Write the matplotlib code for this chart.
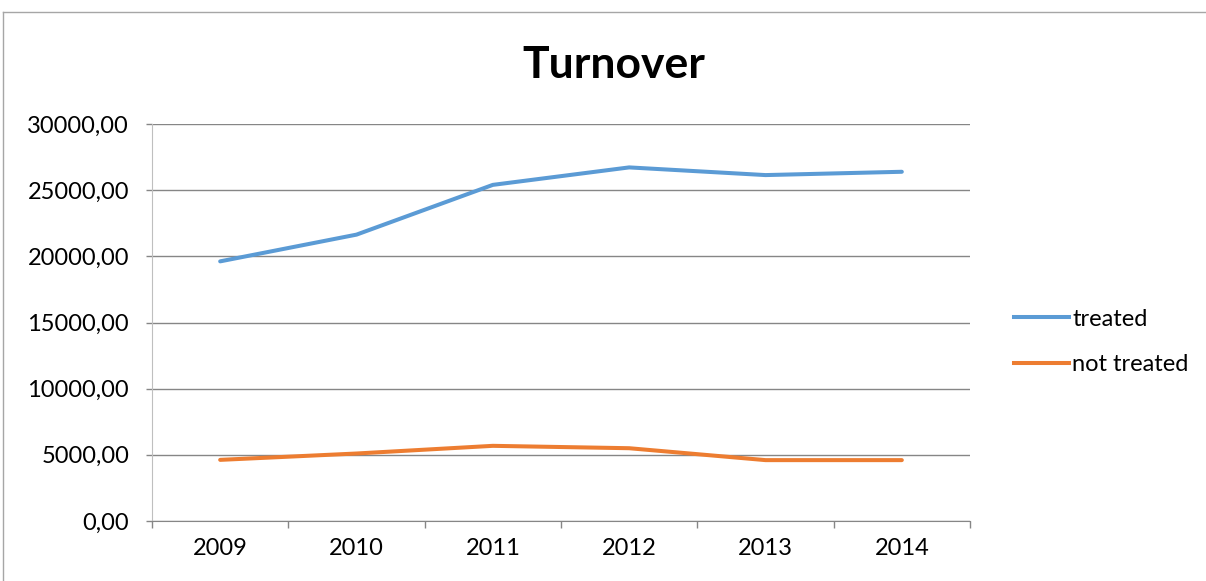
import matplotlib
matplotlib.use('Agg')
import matplotlib.pyplot as plt
from matplotlib.lines import Line2D
import numpy as np

years = ['2009', '2010', '2011', '2012', '2013', '2014']
treated = [19620, 21640, 25400, 26720, 26140, 26390]
not_treated = [4620, 5100, 5680, 5500, 4600, 4600]
y_ticks = [0, 5000, 10000, 15000, 20000, 25000, 30000]

C_BLUE = "#5B9BD5"
C_ORANGE = "#ED7D31"
C_GRID = "#868686"
FONT = ['Lato', 'DejaVu Sans']

plt.rcParams['font.family'] = FONT

fig = plt.figure(figsize=(12.06, 5.81), dpi=100)
ax = fig.add_axes([152 / 1206, 1 - 521 / 581, (970 - 152) / 1206, (521 - 124) / 581])

x = np.arange(len(years)) + 0.5
ax.plot(x, treated, color=C_BLUE, lw=2.9, solid_capstyle='round', label='treated')
ax.plot(x, not_treated, color=C_ORANGE, lw=2.9, solid_capstyle='round', label='not treated')

ax.set_xlim(0, len(years))
ax.set_ylim(0, 30000)
ax.set_yticks(y_ticks)
ax.set_yticklabels([f"{v:.2f}".replace('.', ',') for v in y_ticks], fontsize=17)
ax.set_xticks(np.arange(len(years) + 1))
ax.set_xticklabels([])
ax.set_xticks(x, minor=True)
ax.set_xticklabels(years, minor=True, fontsize=17)
ax.tick_params(axis='x', which='major', length=5, color=C_GRID, width=1)
ax.tick_params(axis='x', which='minor', length=0, pad=12)
ax.tick_params(axis='y', length=4.5, color=C_GRID, width=1, pad=12)

ax.grid(axis='y', color=C_GRID, lw=1)
ax.set_axisbelow(True)
for s in ['top', 'right']:
    ax.spines[s].set_visible(False)
ax.spines['bottom'].set_color(C_GRID)
ax.spines['left'].set_color("#BFBFBF")

fig.text(614 / 1206, 1 - 65 / 581, 'Turnover', fontsize=32, fontweight='bold',
         ha='center', va='center')

handles = [Line2D([], [], color=C_BLUE, lw=2.9), Line2D([], [], color=C_ORANGE, lw=2.9)]
fig.legend(handles, ['treated', 'not treated'], loc='center left',
           bbox_to_anchor=(993 / 1206, 1 - 342 / 581), frameon=False,
           fontsize=17, handlelength=2.3, handletextpad=0.15, labelspacing=1.05)

# chart frame
fig.add_artist(Line2D([3.5 / 1206, 3.5 / 1206], [0, 1 - 12 / 581], color="#A6A6A6", lw=1))
fig.add_artist(Line2D([3.5 / 1206, 1], [1 - 12 / 581, 1 - 12 / 581], color="#A6A6A6", lw=1))

fig.savefig('out.png', dpi=100, facecolor='white')
